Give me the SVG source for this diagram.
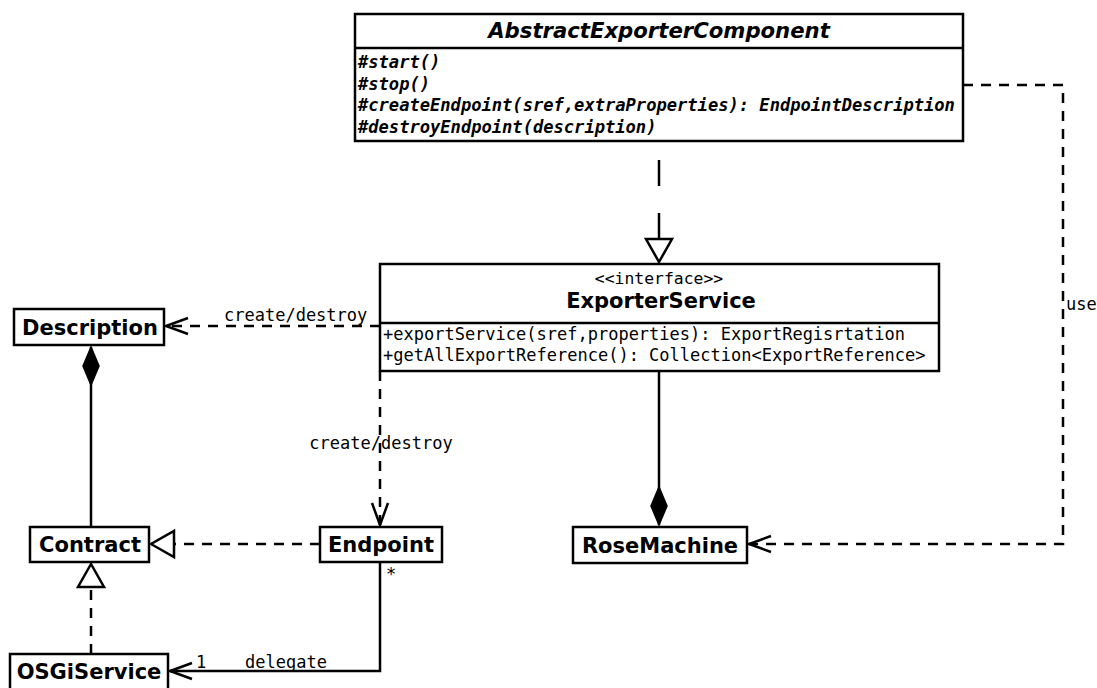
<svg xmlns="http://www.w3.org/2000/svg" width="1097" height="688" viewBox="0 0 1097 688">
<style>
.box{fill:#fff;stroke:#000;stroke-width:2.5}
.ln{fill:none;stroke:#000;stroke-width:2.5}
.dash{stroke-dasharray:10,8}
.name{font-family:"DejaVu Sans",sans-serif;font-weight:bold;font-size:21px;text-anchor:middle}
.mono{font-family:"DejaVu Sans Mono",monospace;font-size:17px}
.abs{font-family:"DejaVu Sans Mono",monospace;font-size:17.1px;font-weight:bold;font-style:italic}
</style>
<defs>
<marker id="open" markerUnits="userSpaceOnUse" viewBox="-25 -11 28 22" refX="0" refY="0" markerWidth="28" markerHeight="22" orient="auto" overflow="visible">
<path d="M-22,-8 L0,0 L-22,8" fill="none" stroke="#000" stroke-width="2.5"/>
</marker>
<marker id="tri" markerUnits="userSpaceOnUse" viewBox="-26 -15 30 30" refX="0" refY="0" markerWidth="30" markerHeight="30" orient="auto" overflow="visible">
<path d="M0,0 L-23,-13 L-23,13 Z" fill="#fff" stroke="#000" stroke-width="2.5"/>
</marker>
<marker id="dia" markerUnits="userSpaceOnUse" viewBox="-42 -10 44 20" refX="0" refY="0" markerWidth="44" markerHeight="20" orient="auto" overflow="visible">
<path d="M0,0 L-19,-8 L-38,0 L-19,8 Z" fill="#000" stroke="#000" stroke-width="1.5"/>
</marker>
</defs>

<g id="connectors">
<path class="ln" d="M659,141 V262" stroke-dasharray="26,27" stroke-dashoffset="34" marker-end="url(#tri)"/>
<path class="ln dash" d="M963,85 H1063 V544 H749" marker-end="url(#open)"/>
<text class="mono" x="1066" y="310">use</text>
<path class="ln dash" d="M380,326 H166" marker-end="url(#open)"/>
<text class="mono" x="224" y="321">create/destroy</text>
<path class="ln dash" d="M380,371 V525" marker-end="url(#open)"/>
<text class="mono" x="381" y="449" text-anchor="middle">create/destroy</text>
<path class="ln" d="M659,371 V525" marker-end="url(#dia)"/>
<path class="ln" d="M91,527 V347" marker-end="url(#dia)"/>
<path class="ln dash" d="M320,544 H151" marker-end="url(#tri)"/>
<path class="ln dash" d="M91,654 V564" marker-end="url(#tri)"/>
<path class="ln" d="M380,562 V671 H170" marker-end="url(#open)"/>
<text class="mono" x="386" y="580">*</text>
<text class="mono" x="196" y="668">1</text>
<text class="mono" x="245" y="668">delegate</text>
</g>

<g id="AbstractExporterComponent">
<rect class="box" x="355" y="14" width="608" height="127"/>
<line class="ln" x1="355" y1="48" x2="963" y2="48"/>
<text x="659" y="38" text-anchor="middle" font-family="DejaVu Sans,sans-serif" font-size="21.2" font-weight="bold" font-style="italic">AbstractExporterComponent</text>
<text class="abs" x="358" y="68">#start()</text>
<text class="abs" x="358" y="90">#stop()</text>
<text class="abs" x="358" y="111">#createEndpoint(sref,extraProperties): EndpointDescription</text>
<text class="abs" x="358" y="133">#destroyEndpoint(description)</text>
</g>

<g id="ExporterService">
<rect class="box" x="380" y="264" width="559" height="107"/>
<line class="ln" x1="380" y1="323" x2="939" y2="323"/>
<text x="659" y="284" text-anchor="middle" font-family="DejaVu Sans Mono,monospace" font-size="16.4">&lt;&lt;interface&gt;&gt;</text>
<text class="name" x="661" y="308">ExporterService</text>
<text class="mono" x="383" y="340">+exportService(sref,properties): ExportRegisrtation</text>
<text class="mono" x="383" y="361">+getAllExportReference(): Collection&lt;ExportReference&gt;</text>
</g>

<g id="Description">
<rect class="box" x="14" y="309" width="150" height="36"/>
<text class="name" x="90" y="335">Description</text>
</g>

<g id="Contract">
<rect class="box" x="30" y="527" width="119" height="35"/>
<text class="name" x="90" y="552">Contract</text>
</g>

<g id="Endpoint">
<rect class="box" x="320" y="527" width="122" height="35"/>
<text class="name" x="381" y="552">Endpoint</text>
</g>

<g id="RoseMachine">
<rect class="box" x="573" y="527" width="174" height="36"/>
<text class="name" x="660" y="553">RoseMachine</text>
</g>

<g id="OSGiService">
<rect class="box" x="10" y="654" width="158" height="40"/>
<text class="name" x="89" y="679">OSGiService</text>
</g>
</svg>
